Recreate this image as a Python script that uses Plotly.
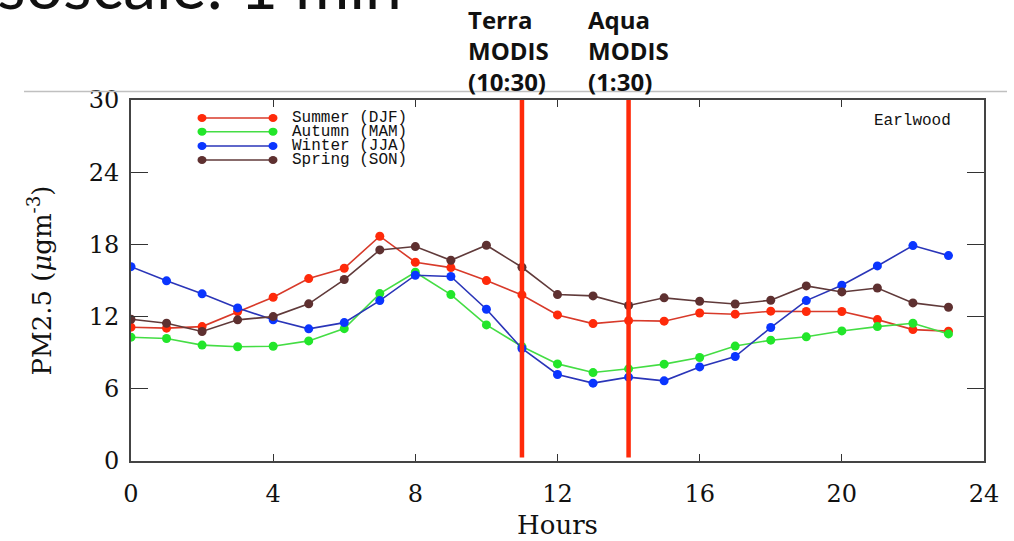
import plotly.graph_objects as go

# Hourly mean PM2.5 at Earlwood by season
hours = list(range(24))
summer_djf = [11.12, 11.04, 11.17, 12.42, 13.61, 15.16, 16.02, 18.68, 16.52, 16.07, 14.99, 13.80,
              12.14, 11.42, 11.67, 11.62, 12.30, 12.20, 12.45, 12.42, 12.42, 11.75, 10.92, 10.79]
autumn_mam = [10.29, 10.18, 9.63, 9.49, 9.54, 9.98, 11.00, 13.91, 15.69, 13.83, 11.31, 9.51,
              8.07, 7.35, 7.66, 8.05, 8.60, 9.55, 10.04, 10.32, 10.81, 11.17, 11.45, 10.56]
winter_jja = [16.15, 14.97, 13.89, 12.72, 11.73, 10.98, 11.50, 13.33, 15.44, 15.33, 12.61, 9.35,
              7.19, 6.47, 6.97, 6.66, 7.82, 8.68, 11.09, 13.33, 14.61, 16.21, 17.90, 17.07]
spring_son = [11.78, 11.45, 10.76, 11.73, 12.00, 13.06, 15.08, 17.54, 17.82, 16.68, 17.93, 16.10,
              13.83, 13.72, 12.92, 13.56, 13.28, 13.05, 13.36, 14.55, 14.05, 14.38, 13.14, 12.78]

season_names = ["Summer (DJF)", "Autumn (MAM)", "Winter (JJA)", "Spring (SON)"]
season_values = [summer_djf, autumn_mam, winter_jja, spring_son]
marker_colors = ["#ff2a0a", "#22e62a", "#0a35ff", "#5e3030"]
line_colors = ["#d83a2a", "#44dd44", "#2a35b8", "#603a3a"]

# Satellite overpass hours and their labels
overpass_hours = [11, 14]
overpass_labels = ["Terra<br>MODIS<br>(10:30)", "Aqua<br>MODIS<br>(1:30)"]

x_ticks = [0, 4, 8, 12, 16, 20, 24]
y_ticks = [0, 6, 12, 18, 24, 30]

W, H = 1014, 541
L, R, T, B = 131, 30, 100, 80
pw, ph = W - L - R, H - T - B


def px(xp):
    return (xp - L) / pw


def py(yp):
    return (H - B - yp) / ph


fig = go.Figure()
for name, vals, mc, lc in zip(season_names, season_values, marker_colors, line_colors):
    fig.add_trace(go.Scatter(
        x=hours, y=vals, name=name, mode="lines+markers",
        line=dict(color=lc, width=1.6),
        marker=dict(color=mc, size=9, line=dict(width=0)),
        showlegend=False,
    ))

# Overpass times
for h in overpass_hours:
    fig.add_shape(type="line", xref="x", yref="paper", x0=h, x1=h, y0=0.01, y1=1,
                  line=dict(color="#ff2a0a", width=4.5))

for h, lab, xp in zip(overpass_hours, overpass_labels, [466, 586]):
    fig.add_annotation(text=lab, xref="paper", yref="paper", x=px(xp), y=py(50),
                       xanchor="left", yanchor="middle", align="left", showarrow=False,
                       font=dict(family="Open Sans", size=24, color="#111111", weight="bold"))

# Slide rule line and heading
fig.add_shape(type="line", xref="paper", yref="paper", x0=px(24), x1=px(1007),
              y0=py(91.5), y1=py(91.5), line=dict(color="#c0c0c0", width=1.5))
fig.add_annotation(text="Mesoscale: 1 min", xref="paper", yref="paper", x=px(404), y=py(-16),
                   xanchor="right", yanchor="middle", showarrow=False,
                   font=dict(family="Lato", size=66, color="#111111"))

# Legend drawn inside the frame
legend_rows = [118, 131.7, 146, 160]
for name, mc, lc, yr in zip(season_names, marker_colors, line_colors, legend_rows):
    fig.add_shape(type="line", xref="paper", yref="paper", x0=px(202), x1=px(273),
                  y0=py(yr), y1=py(yr), line=dict(color=lc, width=1.6))
    for xe in (202, 273):
        fig.add_shape(type="circle", xref="paper", yref="paper",
                      xsizemode="pixel", ysizemode="pixel",
                      xanchor=px(xe), yanchor=py(yr), x0=-4.5, x1=4.5, y0=-4, y1=4,
                      fillcolor=mc, line=dict(width=0))
    fig.add_annotation(text=name, xref="paper", yref="paper", x=px(290), y=py(yr),
                       xanchor="left", yanchor="middle", showarrow=False,
                       font=dict(family="Liberation Mono", size=16, color="#111111"))

fig.add_annotation(text="Earlwood", xref="paper", yref="paper", x=px(953), y=py(121),
                   xanchor="right", yanchor="middle", showarrow=False,
                   font=dict(family="Liberation Mono", size=16, color="#111111"))

tick_font = dict(family="DejaVu Serif", size=24, color="#111111")
fig.update_xaxes(range=[0, 24], tickvals=x_ticks, ticks="inside", ticklen=7, tickwidth=1.3,
                 tickcolor="#333333", showline=True, linecolor="#444444", linewidth=1.8,
                 mirror="ticks", showgrid=False, zeroline=False, tickfont=tick_font,
                 ticklabelstandoff=10,
                 title=dict(text="Hours", font=dict(family="DejaVu Serif", size=26, color="#111111"),
                            standoff=9))
fig.update_yaxes(range=[0, 30], tickvals=y_ticks, ticks="inside", ticklen=17, tickwidth=1.3,
                 tickcolor="#333333", showline=True, linecolor="#444444", linewidth=1.8,
                 mirror="ticks", showgrid=False, zeroline=False, tickfont=tick_font,
                 ticklabelstandoff=5,
                 title=dict(text="PM2.5 (<i>μ</i>gm<sup>-3</sup>)",
                            font=dict(family="DejaVu Serif", size=26, color="#111111"),
                            standoff=30))

fig.update_layout(width=W, height=H, margin=dict(l=L, r=R, t=T, b=B, autoexpand=False),
                  paper_bgcolor="white", plot_bgcolor="white", showlegend=False)

fig.write_html("out.html")
